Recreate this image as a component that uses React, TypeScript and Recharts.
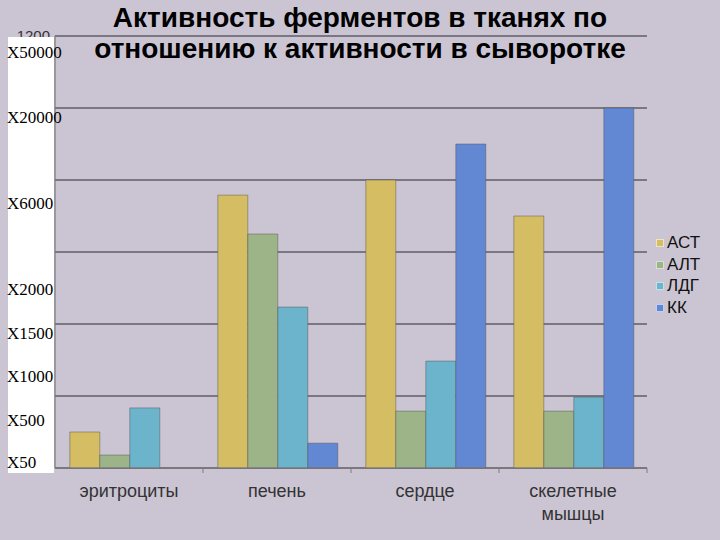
import React from 'react';
import { BarChart, Bar, XAxis, YAxis, CartesianGrid, Legend } from 'recharts';

const categories = ['эритроциты', 'печень', 'сердце', 'скелетные мышцы'];
const astValues = [100, 758, 800, 700];
const altValues = [36, 650, 158, 158];
const ldgValues = [167, 447, 297, 197];
const kkValues = [0, 69, 900, 1000];
const seriesNames = ['АСТ', 'АЛТ', 'ЛДГ', 'КК'];
const seriesColors = ['#d4bd63', '#9cb487', '#6bb4cc', '#6388d3'];
const yTicks = [0, 200, 400, 600, 800, 1000, 1200];
const overlayLabels = ['X50000', 'X20000', 'X6000', 'X2000', 'X1500', 'X1000', 'X500', 'X50'];
const titleLines = ['Активность ферментов в тканях по', 'отношению к активности в сыворотке'];

// layout-only: baselines of the hand-placed overlay captions
const overlayBaselines = [58, 123, 209, 295, 339, 382, 426, 468];

const data = categories.map((name, i) => ({
  name,
  ast: astValues[i],
  alt: altValues[i],
  ldg: ldgValues[i],
  kk: kkValues[i],
}));
const seriesKeys = ['ast', 'alt', 'ldg', 'kk'];

const CategoryTick = (props: any) => {
  const { x, y, payload } = props;
  const words = String(payload.value).split(' ');
  const off = payload.offset || 0;
  return (
    <g>
      <line x1={x + off} x2={x + off} y1={y - 8} y2={y - 3} stroke="#7a7a7a" strokeWidth={1} />
      <text
        x={x}
        y={y + 21}
        textAnchor="middle"
        fill="#333"
        style={{ fontFamily: 'Arial, "Liberation Sans", sans-serif', fontSize: 18 }}
      >
        {words.map((w, i) => (
          <tspan key={i} x={x} dy={i === 0 ? 0 : 23}>
            {w}
          </tspan>
        ))}
      </text>
    </g>
  );
};

// Only the top value label peeks out above the white caption panel
const ValueTick = (props: any) => {
  const { x, y, payload } = props;
  if (payload.value !== yTicks[yTicks.length - 1]) return <g />;
  return (
    <text
      x={x}
      y={y}
      dy={5}
      textAnchor="end"
      fill="#333"
      style={{ fontFamily: 'Arial, "Liberation Sans", sans-serif', fontSize: 15 }}
    >
      {payload.value}
    </text>
  );
};

const LegendContent = (props: any) => {
  const items = [...(props.payload || [])].sort(
    (a: any, b: any) => seriesNames.indexOf(a.value) - seriesNames.indexOf(b.value)
  );
  return (
    <div style={{ fontFamily: 'Arial, "Liberation Sans", sans-serif', fontSize: 17, color: '#111', paddingLeft: 9 }}>
      {items.map((p: any, i: number) => (
        <div key={i} style={{ display: 'flex', alignItems: 'center', height: 21.7 }}>
          <span
            style={{
              display: 'inline-block',
              width: 6,
              height: 6,
              background: p.color,
              border: '1px solid rgba(255,255,255,0.6)',
              marginRight: 3,
            }}
          />
          <span>{p.value}</span>
        </div>
      ))}
    </div>
  );
};

export default function App() {
  return (
    <div
      style={{
        position: 'absolute',
        left: 0,
        top: 0,
        width: 720,
        height: 540,
        background: '#cbc5d3',
        overflow: 'hidden',
      }}
    >
      <BarChart
        width={720}
        height={540}
        data={data}
        margin={{ top: 36, right: 8, bottom: 12, left: 0 }}
        barCategoryGap="10%"
        barGap={0}
      >
        <CartesianGrid horizontal vertical={false} stroke="#605c66" strokeWidth={1.4} />
        <XAxis
          dataKey="name"
          height={60}
          tick={<CategoryTick />}
          tickLine={false}
          tickSize={6}
          tickMargin={2}
          interval={0}
          axisLine={{ stroke: '#7a7a7a', strokeWidth: 1.2 }}
        />
        <YAxis
          width={55}
          domain={[0, 1200]}
          ticks={yTicks}
          tickLine={false}
          tickSize={3}
          tickMargin={2}
          axisLine={{ stroke: '#7a7a7a', strokeWidth: 1.2 }}
          tick={<ValueTick />}
        />
        <Legend
          layout="vertical"
          align="right"
          verticalAlign="middle"
          content={<LegendContent />}
          wrapperStyle={{ width: 65, top: 232 }}
        />
        {seriesKeys.map((k, i) => (
          <Bar
            key={k}
            dataKey={k}
            name={seriesNames[i]}
            fill={seriesColors[i]}
            stroke="rgba(80,80,80,0.45)"
            strokeWidth={1}
            isAnimationActive={false}
          />
        ))}
      </BarChart>
      <svg
        width={720}
        height={540}
        style={{ position: 'absolute', left: 0, top: 0, pointerEvents: 'none' }}
      >
        <rect x={8} y={37} width={46} height={436} fill="#ffffff" />
        {overlayLabels.map((t, i) => (
          <text
            key={t}
            x={7}
            y={overlayBaselines[i]}
            fill="#000"
            style={{ fontFamily: '"Liberation Serif", "DejaVu Serif", serif', fontSize: 17 }}
          >
            {t}
          </text>
        ))}
        {titleLines.map((t, i) => (
          <text
            key={i}
            x={360}
            y={27 + i * 31}
            textAnchor="middle"
            fill="#000"
            style={{ fontFamily: 'Arial, "Liberation Sans", sans-serif', fontSize: 28, fontWeight: 'bold' }}
          >
            {t}
          </text>
        ))}
      </svg>
    </div>
  );
}
